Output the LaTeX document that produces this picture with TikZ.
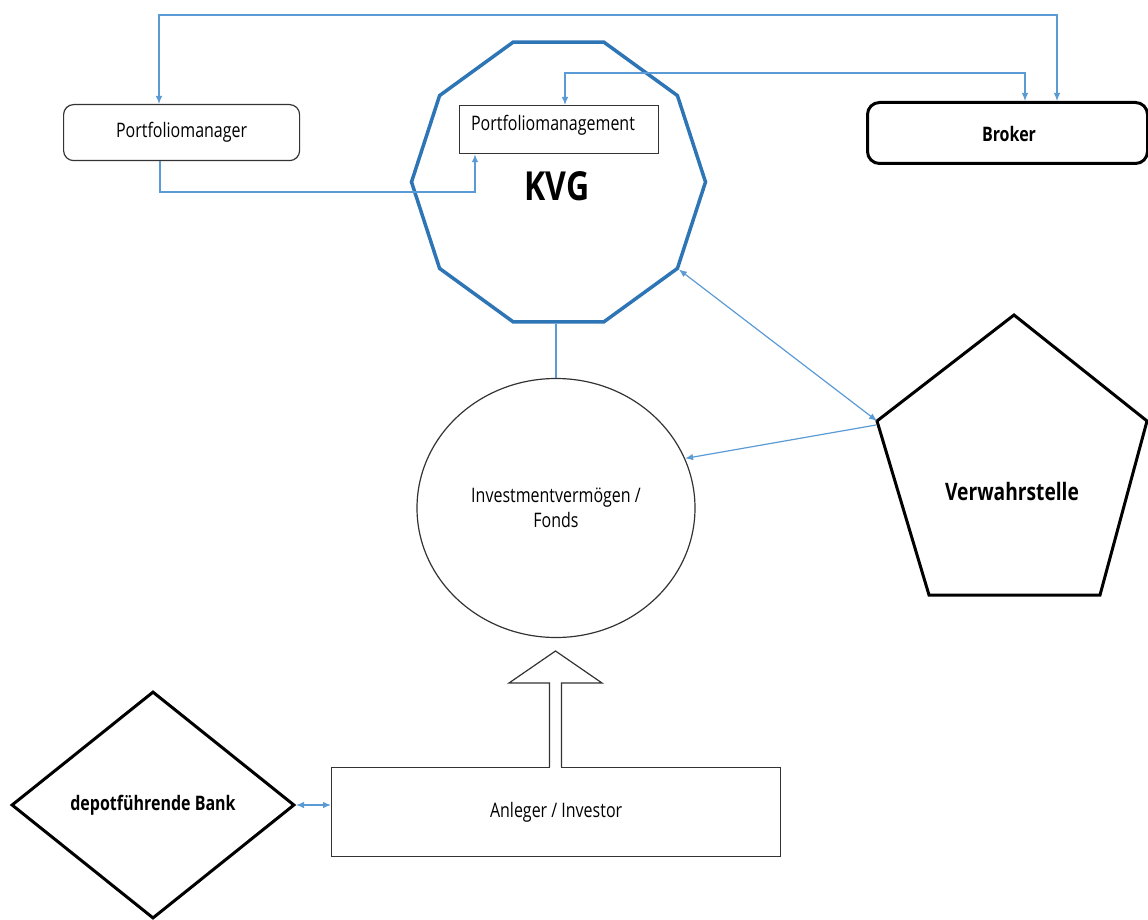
\documentclass[tikz,border=0pt]{standalone}
\usepackage{fontspec}
\setmainfont{Open Sans}[FakeStretch=0.8]
\usetikzlibrary{arrows.meta,shapes.geometric}
\definecolor{cblue}{RGB}{91,155,213}
\definecolor{kvgblue}{RGB}{46,117,182}
\begin{document}
\begin{tikzpicture}[x=1pt,y=-1pt,
  conn/.style={draw=cblue, line width=1.2pt},
  arr/.style={-{Latex[length=8pt,width=6.5pt]}},
  darr/.style={{Latex[length=8pt,width=6.5pt]}-{Latex[length=8pt,width=6.5pt]}},
  thinbox/.style={draw=black!80, line width=1.2pt},
  thickbox/.style={draw=black, line width=3pt},
  txt/.style={font=\fontsize{20}{25}\selectfont, inner sep=0pt},
  btxt/.style={font=\bfseries\fontsize{20}{25}\selectfont, inner sep=0pt}]
\useasboundingbox (0,0) rectangle (1148,920);

% nodes
\node[thinbox, rounded corners=10pt, minimum width=236pt, minimum height=56pt, anchor=north west, txt] (pm) at (63,104) {Portfoliomanager};
\node[thickbox, rounded corners=12pt, minimum width=280pt, minimum height=61pt, anchor=north west] (br) at (866,101) {};
\node[btxt] (brt) at (1009,134) {Broker};

\node[regular polygon, regular polygon sides=10, minimum size=294pt, draw=kvgblue, line width=3.5pt, inner sep=0pt] (kvg) at (558.5,182) {};
\node[thinbox, minimum width=199pt, minimum height=48pt, anchor=north west] (pmg) at (459,105) {};
\node[txt] (pmgt) at (553,125) {Portfoliomanagement};
\node[font=\bfseries\fontsize{40}{44}\selectfont, inner sep=0pt] (kvgt) at (557,186) {KVG};

\node[ellipse, thinbox, minimum width=278pt, minimum height=259pt, inner sep=0pt, align=center, txt] (fund) at (556,508) {Investmentvermögen /\\Fonds};

% Verwahrstelle pentagon
\coordinate (v1) at (1014,315);
\coordinate (v2) at (1147,421);
\coordinate (v3) at (1100,595);
\coordinate (v4) at (929,595);
\coordinate (v5) at (877,421);
\draw[thickbox, line join=miter] (v1) -- (v2) -- (v3) -- (v4) -- (v5) -- cycle;
\node[font=\bfseries\fontsize{24}{28}\selectfont, inner sep=0pt] (vw) at (1012,491) {Verwahrstelle};

\node[diamond, thickbox, minimum width=283pt, minimum height=227pt, inner sep=0pt, btxt] (bank) at (153,805) {depotführende Bank};
\node[thinbox, minimum width=449pt, minimum height=89pt, anchor=north west, txt] (inv) at (331,767) {Anleger / Investor};

% hollow arrow
\fill[white] (550.3,763) rectangle (560.7,771);
\draw[thinbox, line join=miter] (549.5,767) -- (549.5,683) -- (509,683) -- (555.5,651) -- (602,683) -- (561.5,683) -- (561.5,767);

% connectors
\coordinate (t1) at (159,15);
\coordinate (t2) at (1057,15);
\draw[conn, darr] (t1 |- pm.north) -- (t1) -- (t2) -- (t2 |- br.north);

\coordinate (c1) at (565,73);
\coordinate (c2) at (1025,73);
\draw[conn, darr] (c1 |- pmg.north) -- (c1) -- (c2) -- (c2 |- br.north);

\coordinate (c3) at (160,192);
\coordinate (c4) at (475,192);
\draw[conn, arr] (c3 |- pm.south) -- (c3) -- (c4) -- (c4 |- pmg.south);

\draw[conn] (fund.north) -- (fund.north |- kvg.south);
\draw[conn, darr] (kvg.-36) -- (v5);
\coordinate (v5b) at (876,425);
\draw[conn, arr] (v5b) -- (fund.21);
\draw[conn, darr] (bank.east) -- (bank.east -| inv.west);
\end{tikzpicture}
\end{document}
